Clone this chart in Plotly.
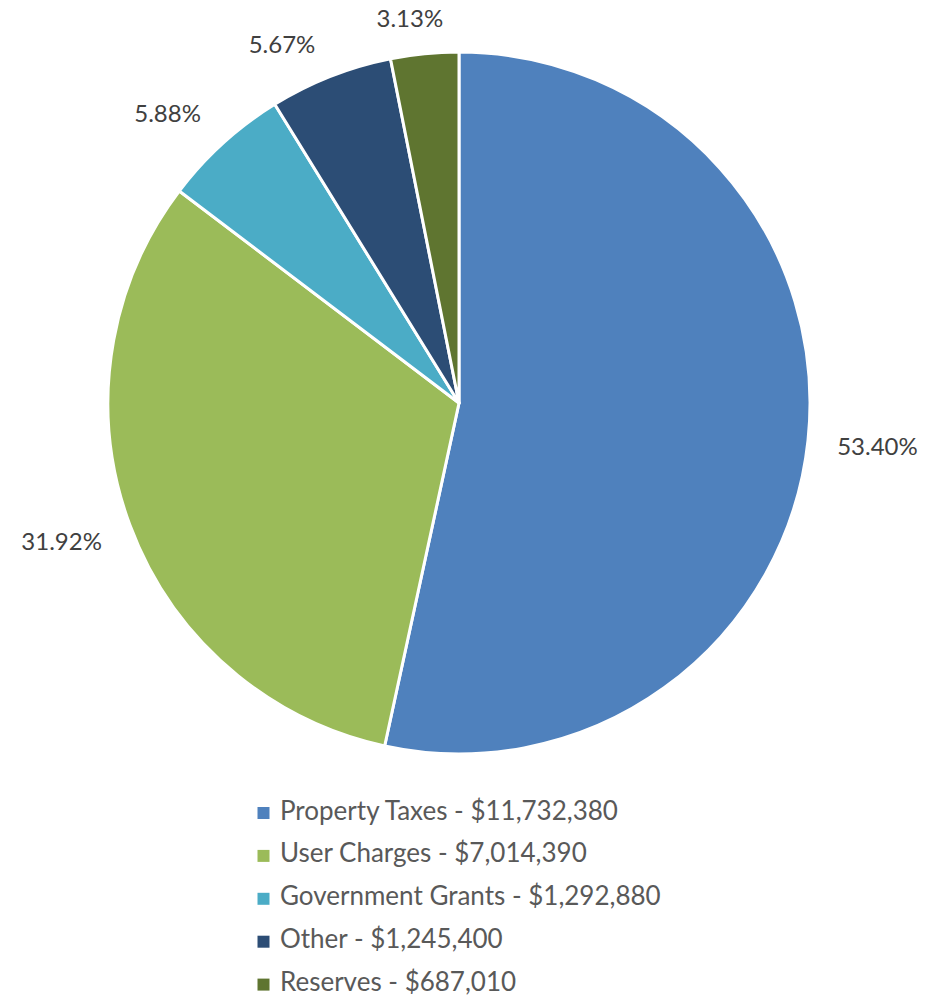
import plotly.graph_objects as go

# Revenue sources and amounts
categories = ["Property Taxes", "User Charges", "Government Grants", "Other", "Reserves"]
amounts = [11732380, 7014390, 1292880, 1245400, 687010]
colors = ["#4F81BD", "#9BBB59", "#4BACC6", "#2C4D75", "#5F7530"]

legend_names = [f"{c} - ${v:,}" for c, v in zip(categories, amounts)]

W, H = 938, 1002
cx, cy, r = 459, 403, 351
r_lbl = 373  # ring that carries the percentage labels
# per-label nudge (px) of the label ring, to keep labels clear of each other
label_nudge = [(0, 3), (0, 6), (0, -6), (0, 0), (28, 0)]

# Key block below the pie (pixel layout)
KEY_TOP = 780
ROW0, ROW_STEP = 813, 42.9
SWATCH_X, TEXT_X = 263.5, 280


def domain(radius, dx=0, dy=0):
    x0, y0 = cx + dx, cy + dy
    return dict(x=[(x0 - radius) / W, (x0 + radius) / W],
                y=[1 - (y0 + radius) / H, 1 - (y0 - radius) / H])


fig = go.Figure()

# Visible pie
fig.add_trace(go.Pie(
    labels=categories,
    values=amounts,
    sort=False,
    direction="clockwise",
    rotation=0,
    marker=dict(colors=colors, line=dict(color="white", width=3)),
    textinfo="none",
    showlegend=False,
    hoverinfo="label+value+percent",
    domain=domain(r),
))

# Transparent rings, one per slice, each carrying that slice's percentage label
for i, (ndx, ndy) in enumerate(label_nudge):
    fig.add_trace(go.Pie(
        labels=categories,
        values=amounts,
        sort=False,
        direction="clockwise",
        rotation=0,
        marker=dict(colors=["rgba(0,0,0,0)"] * len(amounts), line=dict(width=0)),
        texttemplate="%{percent:.2%}",
        textposition=["outside" if j == i else "none" for j in range(len(amounts))],
        textfont=dict(family="Lato", size=24, color="#404040"),
        showlegend=False,
        hoverinfo="skip",
        domain=domain(r_lbl, ndx, ndy),
    ))

# Key: colour swatches and their captions, one row per category
fig.add_trace(go.Scatter(
    x=[SWATCH_X] * len(categories), y=legend_names,
    mode="markers",
    marker=dict(symbol="square", size=12, color=colors, line=dict(width=0)),
    showlegend=False, hoverinfo="skip", cliponaxis=False,
))
fig.add_trace(go.Scatter(
    x=[TEXT_X] * len(categories), y=legend_names,
    mode="text", text=legend_names, textposition="middle right",
    textfont=dict(family="Lato", size=26, color="#595959"),
    showlegend=False, hoverinfo="skip", cliponaxis=False,
))

# Map the key axes straight onto pixel rows/columns
y_top = (KEY_TOP - ROW0) / ROW_STEP
y_bot = (H - ROW0) / ROW_STEP

fig.update_layout(
    width=W, height=H,
    margin=dict(l=0, r=0, t=0, b=0, autoexpand=False),
    paper_bgcolor="white",
    plot_bgcolor="rgba(0,0,0,0)",
    showlegend=False,
    xaxis=dict(visible=False, range=[0, W], domain=[0, 1], fixedrange=True),
    yaxis=dict(visible=False, type="category", categoryorder="array",
               categoryarray=legend_names, range=[y_bot, y_top],
               domain=[0, 1 - KEY_TOP / H], fixedrange=True),
)

fig.write_html("out.html")
